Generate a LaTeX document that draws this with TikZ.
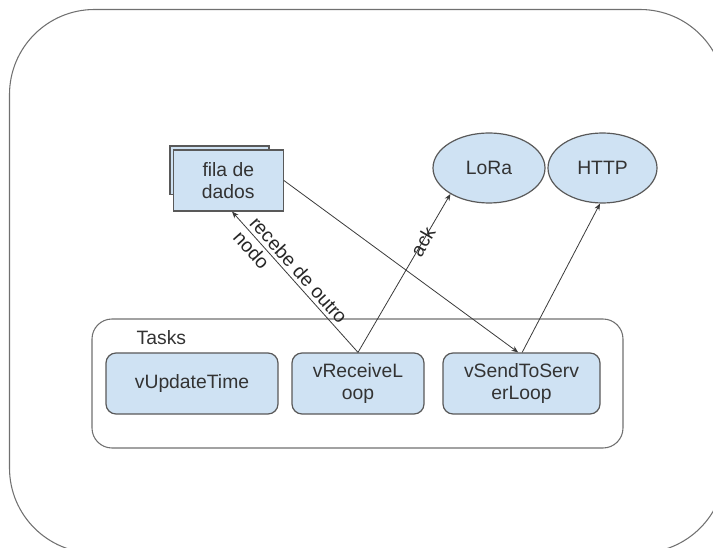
\documentclass[tikz,border=0pt]{standalone}
\usepackage{fontspec}
\setmainfont{Liberation Sans}
\usetikzlibrary{shapes.geometric,arrows.meta}
\definecolor{boxfill}{HTML}{CFE2F3}
\definecolor{boxline}{HTML}{595959}
\definecolor{frameline}{HTML}{707070}
\definecolor{txt}{HTML}{333333}
\definecolor{wire}{HTML}{3A3A3A}

\begin{document}
\begin{tikzpicture}[x=0.75pt,y=-0.75pt,
  every node/.style={font=\fontsize{14.5}{16.5}\selectfont, text=txt},
  task/.style={draw=boxline, fill=boxfill, line width=0.9pt, rounded corners=7.5pt,
               minimum height=45.75pt, inner sep=0pt, align=center},
  store/.style={draw=boxline, fill=boxfill, line width=0.9pt, inner sep=0pt, align=center},
  proto/.style={draw=boxline, fill=boxfill, line width=0.9pt, ellipse, inner sep=0pt,
                minimum height=52.5pt},
  frame/.style={draw=frameline, line width=0.8pt},
  link/.style={draw=wire, line width=0.6pt, -{Stealth[length=5pt,width=4pt]}},
  lbl/.style={sloped, inner sep=0pt, text=black!85}
]
\useasboundingbox (0,0) rectangle (713,548);
\clip (0,0) rectangle (713,548);

% outer frame and task group
\draw[frame, rounded corners=63.75pt] (9.5,9.5) rectangle (725,553);
\draw[frame, rounded corners=15pt] (92,319) rectangle (623,448);
\node[anchor=base west] (tasks) at (132,345) {Tasks};

% tasks
\node[task, minimum width=129pt] (vupd) at (192,383.5) {vUpdateTime};
\node[task, minimum width=99pt] (vrecv) at (358,383.5) {vReceiveL\\oop};
\node[task, minimum width=117.75pt] (vsend) at (521.5,383.5) {vSendToServ\\erLoop};

% data queue (stacked)
\node[store, minimum width=74.25pt, minimum height=36.2pt] (filaback) at (219.5,170.1) {};
\node[store, minimum width=82.5pt, minimum height=45.75pt] (fila) at (228.3,180.5) {fila de\\dados};

% protocols
\node[proto, minimum width=84pt] (lora) at (489,168) {LoRa};
\node[proto, minimum width=81.75pt] (http) at (602.5,168) {HTTP};

% connectors
\draw[link] (vrecv.north) -- node[lbl, pos=0.534, align=left]{recebe de outro\\nodo} ([xshift=2.8pt]fila.south);
\draw[link] (vrecv.north) -- node[lbl, pos=0.7]{ack} (lora.214);
\draw[link] (fila.east) -- ([xshift=-2.5pt]vsend.north);
\draw[link] ([xshift=0.5pt]vsend.north) -- (http.266);
\end{tikzpicture}
\end{document}
